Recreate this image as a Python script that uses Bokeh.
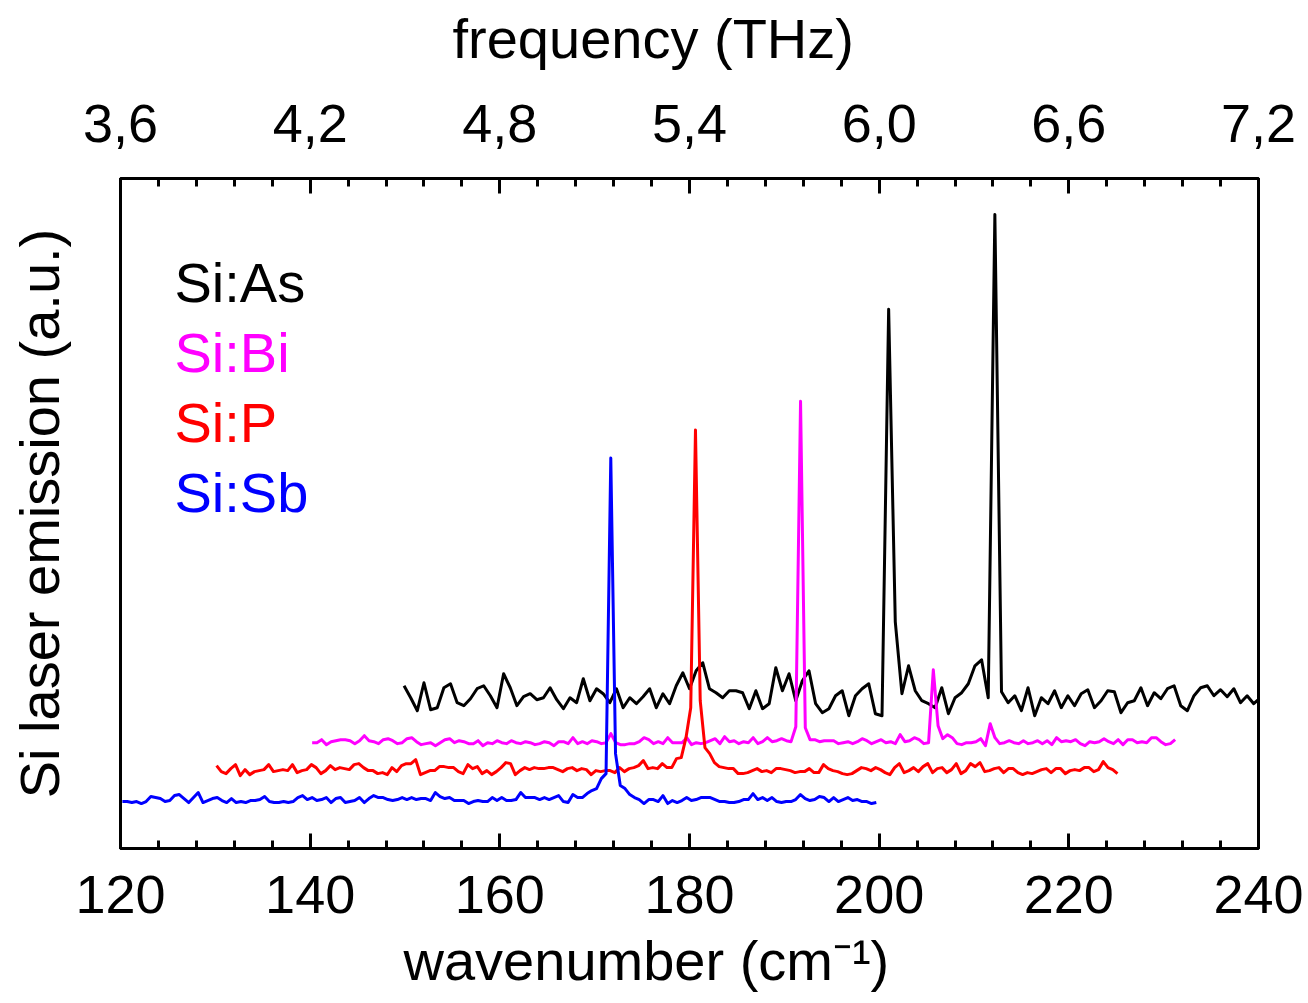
import numpy as np
from bokeh.plotting import figure
from bokeh.models import (Range1d, LinearAxis, SingleIntervalTicker, FixedTicker,
                          CustomJSTickFormatter, Label, Title)
from bokeh.embed import file_html
from bokeh.resources import INLINE

# ---------------- data ----------------
series_names = ["Si:As", "Si:Bi", "Si:P", "Si:Sb"]
series_colors = ["#000000", "#FF00FF", "#FF0000", "#0000FF"]

# sampling grids (wavenumber, cm^-1): first point and spacing
as_start, as_step = 149.9, 0.7
bi_start, bi_step = 140.21, 0.5
p_start, p_step = 130.13, 0.5
sb_start, sb_step = 120.2, 0.5

# emission (a.u.), curves offset vertically as in the figure
si_as = [163, 151, 138, 166, 139, 141, 161, 165, 146, 143, 150, 160, 163, 153, 141, 175, 161, 143, 152, 155,
         149, 151, 161, 149, 140, 151, 146, 170, 148, 160, 155, 146, 160, 141, 151, 145, 152, 160, 141, 155,
         145, 163, 176, 160, 178, 186, 160, 156, 151, 158, 158, 156, 140, 158, 140, 145, 181, 158, 175, 148,
         168, 178, 145, 136, 140, 153, 158, 133, 153, 160, 165, 135, 133, 540, 227, 155, 183, 158, 148, 145,
         141, 161, 135, 151, 156, 165, 183, 189, 151, 635, 157, 146, 153, 138, 161, 133, 151, 145, 158, 141,
         153, 143, 155, 159, 141, 148, 158, 157, 136, 146, 148, 161, 143, 156, 150, 160, 163, 143, 138, 153,
         161, 163, 153, 159, 152, 160, 146, 153, 145, 151]

si_bi = [106, 106, 109, 104, 107, 108, 109, 109, 108, 105, 108, 113, 108, 107, 105, 109, 110, 108, 105, 106,
         110, 111, 107, 104, 105, 106, 103, 106, 109, 110, 106, 108, 107, 105, 105, 108, 103, 106, 105, 108,
         106, 105, 108, 106, 105, 107, 106, 104, 105, 107, 106, 103, 107, 107, 105, 111, 105, 107, 105, 108,
         107, 105, 106, 115, 106, 104, 104, 105, 105, 107, 111, 109, 105, 107, 105, 111, 106, 106, 106, 111,
         104, 106, 105, 106, 108, 110, 105, 112, 107, 108, 105, 107, 106, 111, 105, 107, 111, 107, 108, 110,
         108, 107, 122, 448, 121, 109, 109, 107, 108, 108, 108, 105, 106, 107, 105, 107, 110, 108, 105, 107,
         109, 106, 107, 105, 114, 107, 108, 111, 109, 105, 106, 179, 123, 110, 114, 111, 105, 104, 106, 106,
         107, 110, 103, 125, 111, 105, 106, 108, 106, 105, 108, 105, 106, 108, 105, 108, 104, 111, 107, 108,
         107, 109, 105, 103, 107, 106, 107, 110, 107, 105, 109, 104, 109, 109, 106, 107, 106, 111, 111, 107,
         104, 105, 109]

si_p = [83, 77, 75, 80, 84, 73, 79, 74, 77, 78, 79, 84, 77, 78, 79, 78, 84, 76, 78, 79,
        84, 81, 75, 78, 83, 79, 81, 80, 79, 84, 85, 81, 78, 78, 75, 76, 74, 81, 77, 83,
        85, 85, 89, 74, 76, 78, 78, 82, 82, 81, 81, 77, 75, 84, 80, 82, 75, 78, 74, 77,
        81, 86, 85, 74, 78, 81, 79, 81, 80, 80, 81, 81, 79, 77, 80, 81, 78, 80, 79, 74,
        78, 77, 78, 78, 76, 81, 77, 80, 81, 83, 88, 80, 81, 80, 85, 81, 81, 90, 91, 111,
        141, 419, 148, 101, 95, 86, 82, 81, 80, 80, 75, 75, 76, 78, 80, 77, 78, 76, 80, 80,
        79, 78, 76, 77, 77, 80, 76, 76, 84, 80, 78, 77, 75, 74, 75, 78, 81, 80, 78, 81,
        79, 76, 74, 81, 85, 76, 78, 81, 77, 82, 85, 76, 80, 81, 76, 79, 85, 75, 78, 85,
        82, 86, 77, 78, 80, 81, 76, 80, 80, 76, 74, 76, 75, 77, 79, 80, 76, 80, 80, 75,
        78, 79, 78, 81, 81, 77, 79, 87, 81, 79, 75]

si_sb = [47, 47, 46, 47, 45, 47, 52, 51, 50, 47, 48, 53, 54, 50, 46, 51, 56, 46, 48, 50,
         51, 48, 46, 50, 46, 47, 46, 48, 48, 49, 52, 47, 46, 46, 47, 46, 47, 51, 53, 49,
         51, 48, 49, 51, 46, 50, 51, 46, 47, 48, 51, 46, 50, 53, 51, 51, 49, 48, 49, 51,
         49, 51, 49, 50, 50, 48, 56, 52, 50, 51, 48, 48, 48, 45, 47, 48, 47, 47, 51, 48,
         51, 48, 48, 49, 56, 51, 51, 51, 49, 51, 49, 51, 53, 47, 46, 54, 51, 51, 55, 58,
         60, 70, 75, 391, 95, 63, 60, 54, 51, 49, 45, 49, 49, 47, 53, 45, 48, 46, 48, 51,
         48, 49, 51, 51, 51, 49, 47, 47, 46, 46, 47, 49, 49, 55, 49, 51, 48, 51, 47, 46,
         47, 47, 49, 54, 50, 48, 49, 52, 51, 47, 51, 47, 49, 51, 48, 49, 47, 47, 45, 46]

wn_ticks_interval = 20
thz_ticks = [3.6, 4.2, 4.8, 5.4, 6.0, 6.6, 7.2]

# ---------------- figure ----------------
FONT = "Liberation Sans"
TOP_SHIFT = 24  # hidden strip above the page top, gives the top title room

p = figure(width=1308, height=1003 + TOP_SHIFT, output_backend="svg", toolbar_location=None,
           x_range=Range1d(120, 240), y_range=Range1d(0, 671),
           x_axis_location=None, y_axis_location=None,
           min_border_left=120, min_border_right=50, min_border_top=177 + TOP_SHIFT,
           min_border_bottom=155, margin=(-TOP_SHIFT, 0, 0, 0))
p.background_fill_color = "white"
p.border_fill_color = "white"
p.outline_line_color = "black"
p.outline_line_width = 3
for g in p.grid:
    g.visible = False


def style_ticks(ax):
    ax.axis_line_width = 3
    ax.axis_line_color = "black"
    ax.major_tick_in = 15
    ax.major_tick_out = 0
    ax.minor_tick_in = 8
    ax.minor_tick_out = 0
    ax.major_tick_line_width = 3
    ax.minor_tick_line_width = 3
    ax.major_label_text_font = FONT
    ax.major_label_text_font_size = "54px"
    ax.major_label_text_color = "black"


bottom = LinearAxis(ticker=SingleIntervalTicker(interval=wn_ticks_interval, num_minor_ticks=5))
style_ticks(bottom)
bottom.major_label_standoff = 27
p.add_layout(bottom, "below")

p.extra_x_ranges = {"thz": Range1d(thz_ticks[0], thz_ticks[-1])}
thz_minor = [round(thz_ticks[0] + 0.12 * k, 2) for k in range(31)]
top = LinearAxis(x_range_name="thz", ticker=FixedTicker(ticks=thz_ticks, minor_ticks=thz_minor),
                 formatter=CustomJSTickFormatter(code="return tick.toFixed(1).replace('.', ',');"))
style_ticks(top)
top.major_label_standoff = 37
p.add_layout(top, "above")

left = LinearAxis(ticker=FixedTicker(ticks=[]), axis_label="Si laser emission (a.u.)")
left.axis_line_width = 3
left.major_tick_in = 0
left.major_tick_out = 0
left.minor_tick_in = 0
left.minor_tick_out = 0
left.axis_label_text_font = FONT
left.axis_label_text_font_size = "56px"
left.axis_label_text_font_style = "normal"
left.axis_label_text_color = "black"
left.axis_label_standoff = 50
p.add_layout(left, "left")

# axis titles (shifted like in the original layout)
top_title = Title(text="frequency (THz)", align="left", offset=332, standoff=36 + TOP_SHIFT,
                  vertical_align="top",
                  text_font=FONT, text_font_size="56px", text_font_style="normal", text_color="black")
p.add_layout(top_title, "above")
bottom_title = Title(text="wavenumber (cm\u207b\u00b9)", align="left", offset=283, standoff=22,
                     vertical_align="bottom",
                     text_font=FONT, text_font_size="56px", text_font_style="normal", text_color="black")
p.add_layout(bottom_title, "below")

# ---------------- spectra ----------------
grids = [(as_start, as_step, si_as), (bi_start, bi_step, si_bi),
         (p_start, p_step, si_p), (sb_start, sb_step, si_sb)]
for (start, step, vals), color in zip(grids, series_colors):
    xs = start + step * np.arange(len(vals))
    p.line(xs, vals, line_color=color, line_width=3, line_join="round")

# ---------------- legend texts ----------------
legend_y = [567, 497, 427, 357]
for name, color, yy in zip(series_names, series_colors, legend_y):
    p.add_layout(Label(x=125.69, y=yy, text=name, text_color=color, text_font=FONT,
                       text_font_size="56px", text_baseline="alphabetic", text_align="left"))

open("out.html", "w").write(file_html(p, INLINE))
